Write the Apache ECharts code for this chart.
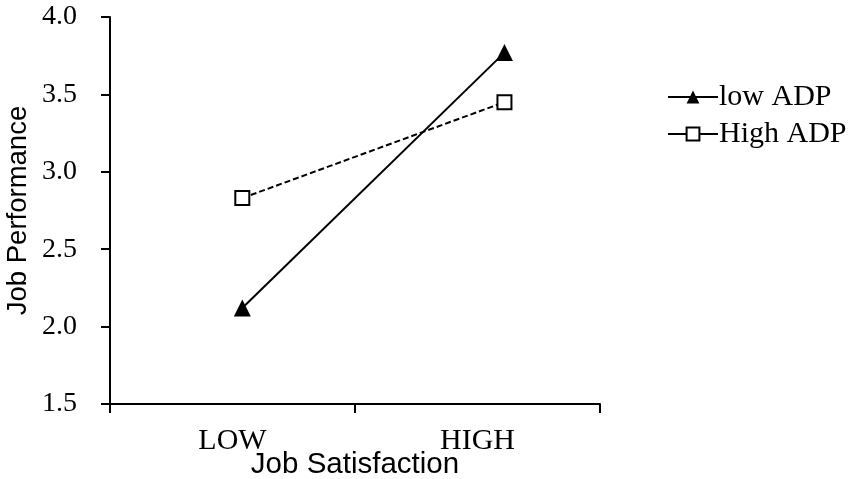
<!DOCTYPE html>
<html>
<head>
<meta charset="utf-8">
<script src="https://cdn.jsdelivr.net/npm/echarts@6/dist/echarts.min.js"></script>
<style>html,body{margin:0;padding:0;background:#fff}#c{width:851px;height:479px}</style>
</head>
<body>
<div id="c"></div>
<script>
var categories = ['LOW', 'HIGH'];
var satisfactionX = [0.54, 1.61];
var lowADP = [2.12, 3.77];
var highADP = [2.83, 3.45];
var seriesNames = ['low ADP', 'High ADP'];

var chart = echarts.init(document.getElementById('c'));
var serif = '"Liberation Serif", "Times New Roman", serif';
var sans = '"Liberation Sans", Arial, sans-serif';
function pairs(ys){ return ys.map(function(v,i){ return [satisfactionX[i], v]; }); }

chart.setOption({
  animation: false,
  backgroundColor: '#fff',
  grid: { left: 110, right: 251, top: 17, bottom: 75, outerBoundsMode: 'none', containLabel: false },
  legend: {
    orient: 'vertical', left: 662, top: 77,
    itemWidth: 50, itemHeight: 16, itemGap: 7,
    textStyle: { fontFamily: serif, fontSize: 30, color: '#000', padding: [0,0,0,-4] },
    lineStyle: { type: 'solid' },
    data: seriesNames
  },
  xAxis: [{
    type: 'category', data: categories, boundaryGap: true,
    name: 'Job Satisfaction', nameLocation: 'middle', nameGap: 46, nameMoveOverlap: false,
    nameTextStyle: { fontFamily: sans, fontSize: 29.5, color: '#000' },
    axisLine: { lineStyle: { color: '#000', width: 2 } },
    axisTick: { show: true, length: 9, lineStyle: { color: '#000', width: 2 }, alignWithLabel: false },
    axisLabel: { fontFamily: serif, fontSize: 30, color: '#000', margin: 22 },
    splitLine: { show: false }
  }, {
    type: 'value', min: 0, max: 2, show: false, position: 'bottom'
  }],
  yAxis: {
    type: 'value', min: 1.5, max: 4.0, interval: 0.5,
    name: 'Job Performance', nameLocation: 'middle', nameGap: 78, nameMoveOverlap: false,
    nameTextStyle: { fontFamily: sans, fontSize: 27.5, color: '#000' },
    axisLine: { show: true, lineStyle: { color: '#000', width: 2 } },
    axisTick: { show: true, length: 9, lineStyle: { color: '#000', width: 2 } },
    axisLabel: { fontFamily: serif, fontSize: 28, color: '#000', margin: 33,
      formatter: function(v){ return v.toFixed(1); } },
    splitLine: { show: false }
  },
  series: [{
    name: seriesNames[0], type: 'line', xAxisIndex: 1,
    data: pairs(lowADP),
    symbol: 'triangle', symbolSize: 17,
    lineStyle: { color: '#000', width: 2, type: 'solid' },
    itemStyle: { color: '#000', borderColor: '#000', borderWidth: 0 }
  }, {
    name: seriesNames[1], type: 'line', xAxisIndex: 1,
    data: pairs(highADP),
    symbol: 'rect', symbolSize: 14,
    lineStyle: { color: '#000', width: 2, type: [6, 3] },
    itemStyle: { color: '#fff', borderColor: '#000', borderWidth: 2 }
  }]
});
</script>
</body>
</html>
